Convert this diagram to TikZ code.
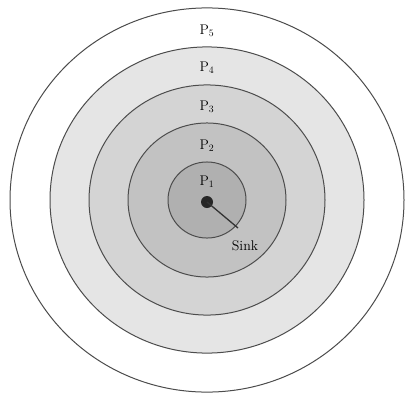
\documentclass[tikz,border=0pt]{standalone}
\begin{document}
\begin{tikzpicture}[x=1pt, y=-1pt, every node/.style={font=\fontsize{14}{16}\selectfont}]
                \useasboundingbox (0,0) rectangle (406,394);
                \coordinate (centre) at (207,200);
                \foreach \radius/\shade in {197/0,157/10,118/17,79/24,39/31}
                    \filldraw[draw=black!70, line width=1pt, fill=black!\shade]
                        (centre) ellipse ({\radius} and {0.975*\radius});
                \foreach \height [count=\index] in {182,146,107,68,31}
                    \node (label-\index) at (207,\height) {P\textsubscript{\index}};
                \node[circle, fill=black!85, inner sep=0pt, minimum size=12pt] (sink) at (207,202) {};
                \coordinate (sink-end) at (238,228);
                \draw[line width=1.3pt, black!80] (sink.center) -- (sink-end);
                \node (sink-label) at (245,246) {Sink};
            \end{tikzpicture}
\end{document}
